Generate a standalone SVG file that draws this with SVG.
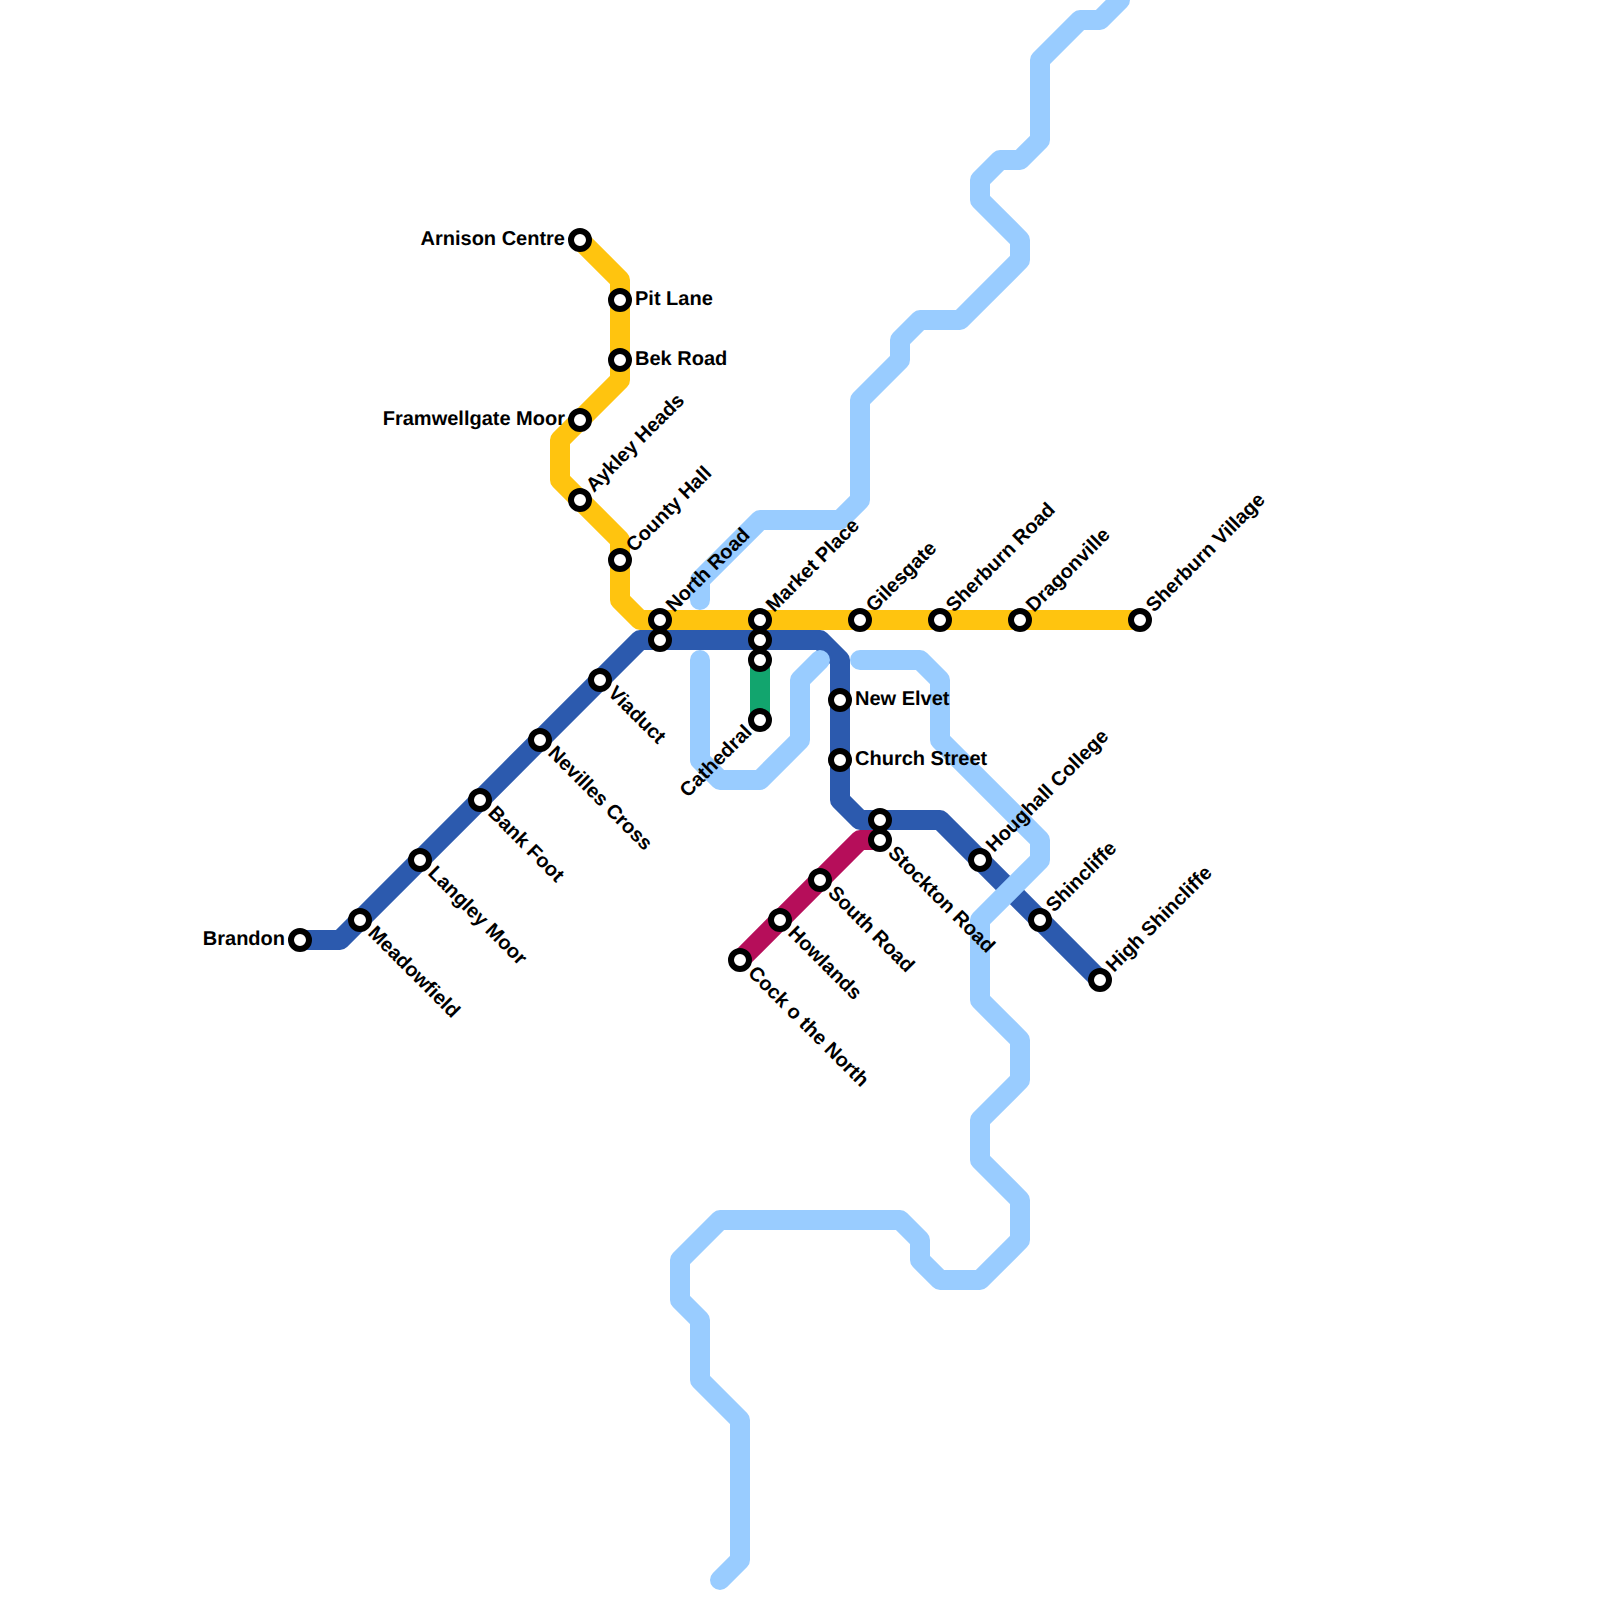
<svg xmlns="http://www.w3.org/2000/svg" width="1600" height="1600" viewBox="0 0 1600 1600">
<style>
.l{fill:none;stroke-width:20;stroke-linejoin:round;stroke-linecap:round}
.y{stroke:#ffc40f}.b{stroke:#2c5aae}.g{stroke:#12a56e}.r{stroke:#b60e5a}.w{stroke:#99ccff}
circle{fill:#fff;stroke:#000;stroke-width:6}
text{font-family:"Liberation Sans",Arial,sans-serif;font-weight:700;font-size:20px;fill:#000;text-rendering:geometricPrecision}
.e{text-anchor:end}
</style>
<rect width="1600" height="1600" fill="#fff"/>
<g id="connectors">
<path class="l g" d="M760 660V720"/>
<path class="l y" d="M580 240L620 280V380L560 440V480L620 540V600L640 620H1140"/>
<path class="l r" d="M740 960L860 840H880"/>
<path class="l b" d="M300 940H340L640 640H820L840 660V800L860 820H940L1100 980"/>
<path class="l w" d="M1120 0L1100 20H1080L1040 60V140L1020 160H1000L980 180V200L1020 240V260L960 320H920L900 340V360L860 400V500L840 520H760L700 580V600"/>
<path class="l w" d="M700 660V760L720 780H760L800 740V680L820 660"/>
<path class="l w" d="M860 660H920L940 680V740L1040 840V860L980 920V1000L1020 1040V1080L980 1120V1160L1020 1200V1240L980 1280H940L920 1260V1240L900 1220H720L680 1260V1300L700 1320V1380L740 1420V1560L720 1580"/>
</g>
<g id="brandon"><circle cx="300" cy="940" r="9"/><text class="e" x="285" y="945">Brandon</text></g>
<g id="meadowfield"><circle cx="360" cy="920" r="9"/><text transform="translate(367 934) rotate(45)">Meadowfield</text></g>
<g id="langley-moor"><circle cx="420" cy="860" r="9"/><text transform="translate(427 874) rotate(45)">Langley Moor</text></g>
<g id="bank-foot"><circle cx="480" cy="800" r="9"/><text transform="translate(487 814) rotate(45)">Bank Foot</text></g>
<g id="nevilles-cross"><circle cx="540" cy="740" r="9"/><text transform="translate(547 754) rotate(45)">Nevilles Cross</text></g>
<g id="viaduct"><circle cx="600" cy="680" r="9"/><text transform="translate(607 694) rotate(45)">Viaduct</text></g>
<g id="north-road"><circle cx="660" cy="620" r="9"/><text transform="translate(674 613) rotate(-45)">North Road</text></g>
<g id="north-road-2"><circle cx="660" cy="640" r="9"/></g>
<g id="market-place"><circle cx="760" cy="620" r="9"/><text transform="translate(774 613) rotate(-45)">Market Place</text></g>
<g id="market-place-2"><circle cx="760" cy="640" r="9"/></g>
<g id="cathedral-2"><circle cx="760" cy="660" r="9"/></g>
<g id="cathedral"><circle cx="760" cy="720" r="9"/><text class="e" transform="translate(753 733) rotate(-45)">Cathedral</text></g>
<g id="gilesgate"><circle cx="860" cy="620" r="9"/><text transform="translate(874 613) rotate(-45)">Gilesgate</text></g>
<g id="sherburn-road"><circle cx="940" cy="620" r="9"/><text transform="translate(954 613) rotate(-45)">Sherburn Road</text></g>
<g id="dragonville"><circle cx="1020" cy="620" r="9"/><text transform="translate(1034 613) rotate(-45)">Dragonville</text></g>
<g id="sherburn-village"><circle cx="1140" cy="620" r="9"/><text transform="translate(1154 613) rotate(-45)">Sherburn Village</text></g>
<g id="arnison-centre"><circle cx="580" cy="240" r="9"/><text class="e" x="565" y="245">Arnison Centre</text></g>
<g id="pit-lane"><circle cx="620" cy="300" r="9"/><text x="635" y="305">Pit Lane</text></g>
<g id="bek-road"><circle cx="620" cy="360" r="9"/><text x="635" y="365">Bek Road</text></g>
<g id="framwellgate-moor"><circle cx="580" cy="420" r="9"/><text class="e" x="565" y="425">Framwellgate Moor</text></g>
<g id="aykley-heads"><circle cx="580" cy="500" r="9"/><text transform="translate(594 493) rotate(-45)">Aykley Heads</text></g>
<g id="county-hall"><circle cx="620" cy="560" r="9"/><text transform="translate(634 553) rotate(-45)">County Hall</text></g>
<g id="new-elvet"><circle cx="840" cy="700" r="9"/><text x="855" y="705">New Elvet</text></g>
<g id="church-street"><circle cx="840" cy="760" r="9"/><text x="855" y="765">Church Street</text></g>
<g id="stockton-road-2"><circle cx="880" cy="820" r="9"/></g>
<g id="stockton-road"><circle cx="880" cy="840" r="9"/><text transform="translate(887 854) rotate(45)">Stockton Road</text></g>
<g id="south-road"><circle cx="820" cy="880" r="9"/><text transform="translate(827 894) rotate(45)">South Road</text></g>
<g id="howlands"><circle cx="780" cy="920" r="9"/><text transform="translate(787 934) rotate(45)">Howlands</text></g>
<g id="cock-o-the-north"><circle cx="740" cy="960" r="9"/><text transform="translate(747 974) rotate(45)">Cock o the North</text></g>
<g id="houghall-college"><circle cx="980" cy="860" r="9"/><text transform="translate(994 853) rotate(-45)">Houghall College</text></g>
<g id="shincliffe"><circle cx="1040" cy="920" r="9"/><text transform="translate(1054 913) rotate(-45)">Shincliffe</text></g>
<g id="high-shincliffe"><circle cx="1100" cy="980" r="9"/><text transform="translate(1114 973) rotate(-45)">High Shincliffe</text></g>
</svg>
